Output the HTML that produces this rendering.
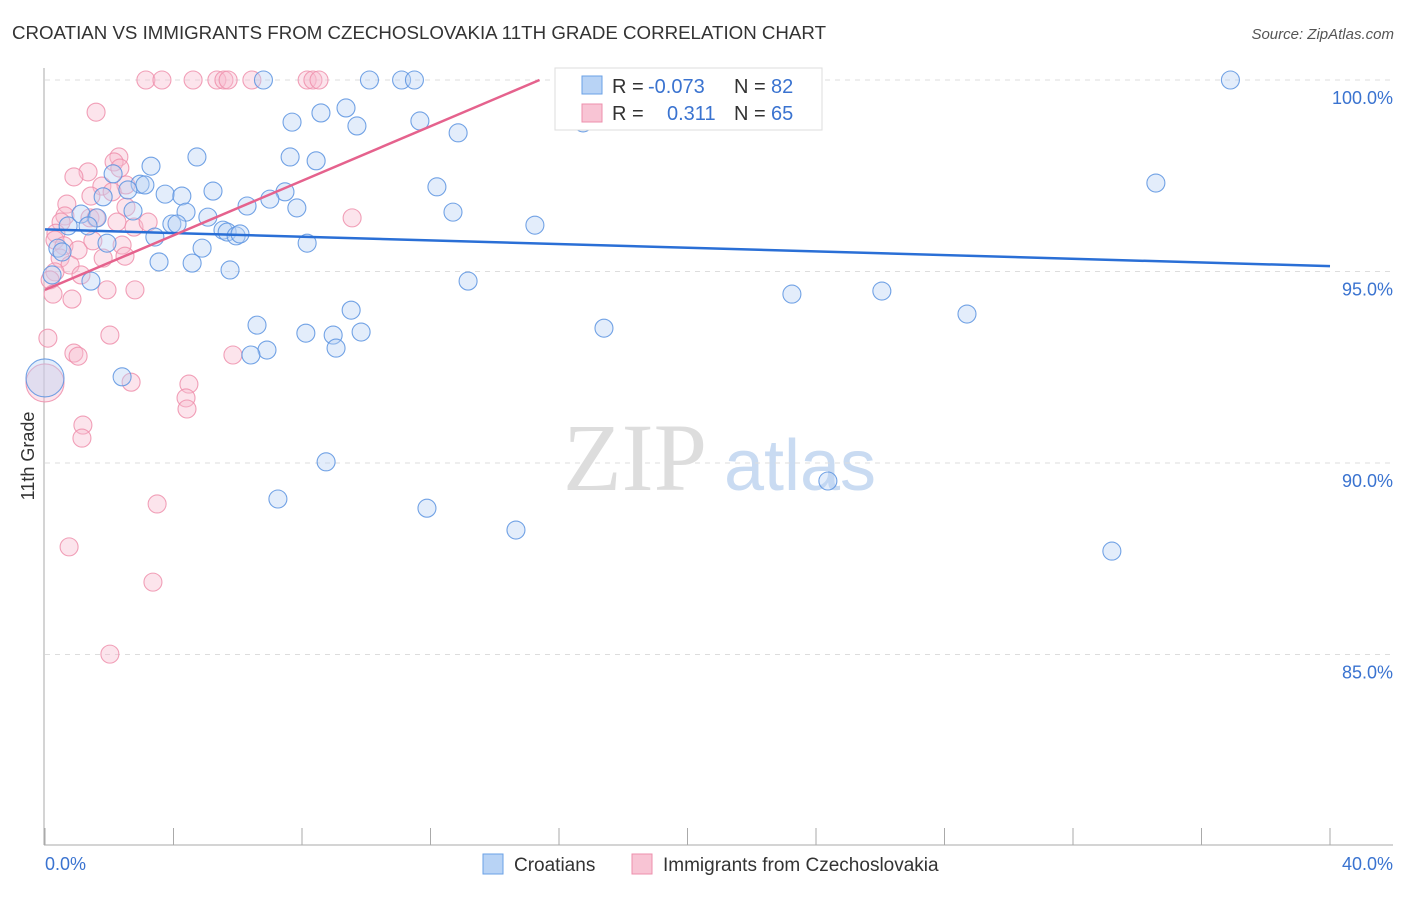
<!DOCTYPE html>
<html><head><meta charset="utf-8">
<style>
body{margin:0;background:#fff;font-family:"Liberation Sans",sans-serif;}
svg text{font-family:"Liberation Sans",sans-serif;}
</style></head>
<body>
<svg id="chart" width="1406" height="892" viewBox="0 0 1406 892" xmlns="http://www.w3.org/2000/svg">
<text x="12" y="39" font-size="18" fill="#333" textLength="814" lengthAdjust="spacingAndGlyphs">CROATIAN VS IMMIGRANTS FROM CZECHOSLOVAKIA 11TH GRADE CORRELATION CHART</text>
<text x="1394" y="39" font-size="15" fill="#555" text-anchor="end" font-style="italic">Source: ZipAtlas.com</text>
<text x="34" y="456" font-size="18" fill="#333" text-anchor="middle" transform="rotate(-90 34 456)">11th Grade</text>
<g>
<text x="635" y="490" font-size="96" fill="#ddd" text-anchor="middle" style="font-family:'Liberation Serif',serif">ZIP</text>
<text x="800" y="490" font-size="72" fill="#c9dbf2" text-anchor="middle">atlas</text>
</g>
<g id="grid"></g>
<g id="axes"></g>
<g id="pts"></g>
<g id="lines"></g>
<g>
<rect x="555" y="68" width="267" height="62" fill="#fff" stroke="#ddd"/>
<rect x="582" y="76" width="20" height="18" fill="#b8d3f5" stroke="#6aa0e6"/>
<rect x="582" y="104" width="20" height="18" fill="#f8c4d4" stroke="#ee8fac"/>
<text x="612" y="93" font-size="20" fill="#333">R = </text>
<text x="648" y="93" font-size="20" fill="#3a73d0">-0.073</text>
<text x="734" y="93" font-size="20" fill="#333">N = </text>
<text x="771" y="93" font-size="20" fill="#3a73d0">82</text>
<text x="612" y="120" font-size="20" fill="#333">R = </text>
<text x="667" y="120" font-size="20" fill="#3a73d0">0.311</text>
<text x="734" y="120" font-size="20" fill="#333">N = </text>
<text x="771" y="120" font-size="20" fill="#3a73d0">65</text>
</g>
<g>
<rect x="483" y="854" width="20" height="20" fill="#b8d3f5" stroke="#6aa0e6"/>
<text x="514" y="871" font-size="19" fill="#333">Croatians</text>
<rect x="632" y="854" width="20" height="20" fill="#f8c4d4" stroke="#ee8fac"/>
<text x="663" y="871" font-size="19" fill="#333">Immigrants from Czechoslovakia</text>
</g>
</svg>
<script>
const blueX=[6.8,10.1,11.1,11.5,36.9,22.3,7.69,8.59,9.37,9.71,11.67,12.86,16.75,22.51,4.73,7.63,8.44,3.30,34.58,12.20,2.12,2.96,3.11,2.58,3.74,4.26,5.23,7.47,7.00,1.81,2.74,4.39,6.29,7.84,12.70,15.25,5.07,3.95,4.11,5.54,5.67,5.95,6.07,3.42,0.72,1.12,1.62,1.34,1.93,8.16,4.89,0.40,0.53,3.55,4.58,5.76,1.43,13.17,0.22,23.25,26.05,9.53,28.70,6.60,17.40,8.12,8.97,9.84,6.91,9.06,6.41,2.40,8.75,24.37,7.25,11.89,14.66,33.21,0.0];
const blueY=[100,100,100,100,100,100,98.9,99.14,99.27,98.8,98.93,98.62,98.88,99.09,97.99,97.99,97.89,97.75,97.31,97.21,97.55,97.28,97.26,97.13,97.02,96.97,97.10,97.08,96.89,96.95,96.58,96.55,96.71,96.66,96.55,96.21,96.42,96.24,96.24,96.08,96.03,95.93,95.98,95.90,96.19,96.50,96.40,96.19,95.74,95.74,95.61,95.61,95.51,95.25,95.22,95.04,94.75,94.75,94.91,94.41,94.49,93.99,93.89,93.60,93.52,93.39,93.34,93.42,92.95,93.00,92.82,92.25,90.03,89.53,89.06,88.82,88.25,87.70,92.22];
const pinkX=[3.14,3.64,4.61,5.35,5.57,5.70,6.44,8.16,8.34,8.53,18.12,1.59,2.30,2.15,1.34,0.90,2.33,2.52,1.77,2.09,1.43,0.68,0.62,2.52,1.40,1.59,2.24,2.77,3.21,0.50,0.34,0.31,0.59,1.03,1.49,2.40,1.81,2.49,9.56,0.47,0.78,0.31,1.12,0.16,0.25,0.84,1.93,2.80,0.09,2.02,0.90,1.03,5.85,4.48,2.68,4.39,4.42,1.18,1.15,3.49,0.75,3.36,2.02,0.0];
const pinkY=[100,100,100,100,100,100,100,100,100,100,100,99.16,97.99,97.86,97.6,97.47,97.7,97.26,97.23,97.08,96.97,96.76,96.45,96.68,96.40,96.40,96.29,96.16,96.29,96.29,96.0,95.82,95.67,95.56,95.8,95.69,95.35,95.4,96.40,95.35,95.17,94.99,94.91,94.78,94.41,94.28,94.52,94.52,93.26,93.34,92.87,92.79,92.82,92.06,92.11,91.7,91.41,90.99,90.65,88.93,87.81,86.89,85.01,92.09];
const blueTrend=[96.1,95.14];
const pinkTrend=[94.52,0.356];
const yTicks=[100,95,90,85];
const yTickLabels=["100.0%","95.0%","90.0%","85.0%"];
const xTickLabels=["0.0%","40.0%"];

const NS="http://www.w3.org/2000/svg";
const X0=45,X1=1330,Y100=80,PXPER=38.3;
const sx=v=>X0+(X1-X0)*v/40;
const sy=v=>Y100+(100-v)*PXPER;
function mk(tag,attrs,parent){const e=document.createElementNS(NS,tag);for(const k in attrs)e.setAttribute(k,attrs[k]);parent.appendChild(e);return e;}
const grid=document.getElementById('grid'),axes=document.getElementById('axes'),pts=document.getElementById('pts'),lines=document.getElementById('lines');
yTicks.forEach((t,i)=>{
  const l=mk('line',{x1:X0,x2:1393,y1:sy(t),y2:sy(t),stroke:'#ddd','stroke-dasharray':'5,5'},grid);
  
  
  const tx=mk('text',{x:1393,y:sy(t)+24,'font-size':18,fill:'#3a73d0','text-anchor':'end'},grid);
  tx.textContent=yTickLabels[i];
  
  
});
const ax=mk('line',{x1:44,x2:44,y1:68,y2:845,stroke:'#aaa'},axes);


const bx=mk('line',{x1:44,x2:1393,y1:845,y2:845,stroke:'#aaa'},axes);


for(let i=0;i<=10;i++){
  const t=mk('line',{x1:sx(i*4),x2:sx(i*4),y1:828,y2:845,stroke:'#aaa'},axes);
  
  
}
const xl0=mk('text',{x:45,y:870,'font-size':18,fill:'#3a73d0'},axes);xl0.textContent=xTickLabels[0];


const xl1=mk('text',{x:1393,y:870,'font-size':18,fill:'#3a73d0','text-anchor':'end'},axes);xl1.textContent=xTickLabels[1];



function drawPts(xs,ys,fill,stroke,name,bigIdx){
  xs.forEach((x,i)=>{
    const r=(i===bigIdx)?19:9;
    const c=mk('circle',{cx:sx(x),cy:sy(ys[i]),r:r,fill:fill,'fill-opacity':0.4,stroke:stroke,'stroke-width':1.1,'stroke-opacity':0.85},pts);
    
    
  });
}
drawPts(pinkX,pinkY,'#f8bcd0','#ee8fac','immigrant-point',pinkX.length-1);
drawPts(blueX,blueY,'#b8d3f5','#5a93e0','croatian-point',blueX.length-1);
const bl=mk('line',{x1:sx(0),y1:sy(blueTrend[0]),x2:sx(40),y2:sy(blueTrend[1]),stroke:'#2a6fd6','stroke-width':2.5},lines);


const pEnd=(100-pinkTrend[0])/pinkTrend[1];
const pl=mk('line',{x1:sx(0),y1:sy(pinkTrend[0]),x2:sx(pEnd),y2:sy(100),stroke:'#e5628d','stroke-width':2.5},lines);


</script>
</body></html>
